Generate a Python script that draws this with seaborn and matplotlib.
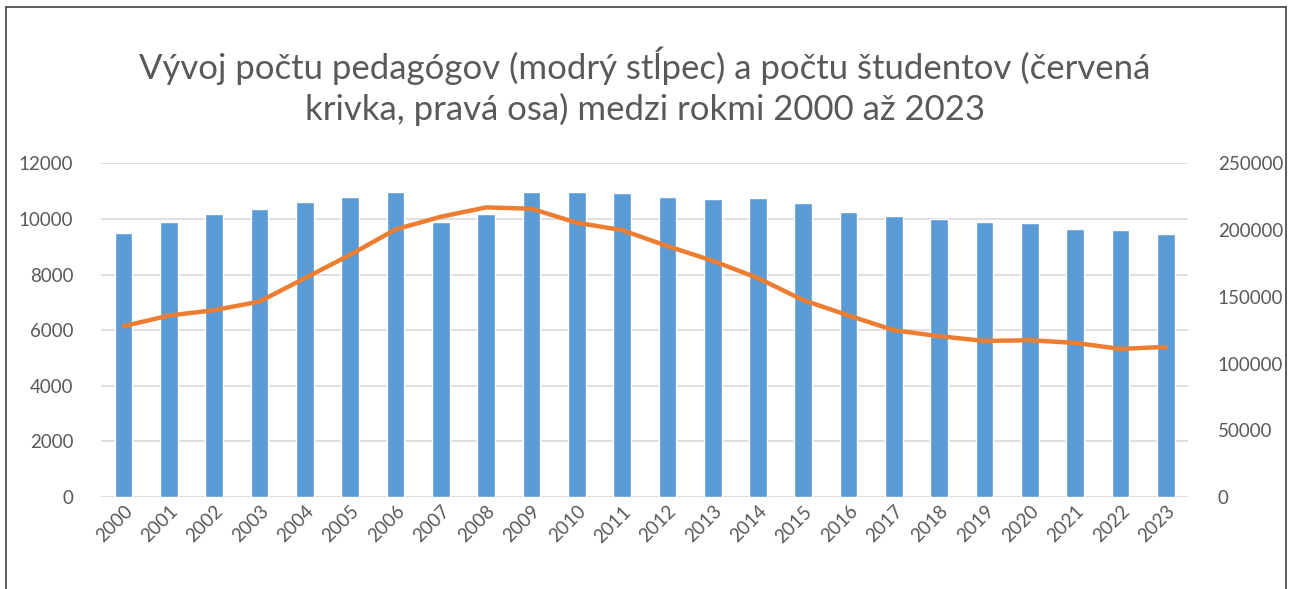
import matplotlib
matplotlib.use("Agg")
import matplotlib.pyplot as plt
import seaborn as sns
import pandas as pd
import numpy as np

# data
years = [str(y) for y in range(2000, 2024)]
teachers = [9500, 9890, 10180, 10345, 10600, 10800, 10970, 9890,
            10180, 10970, 10970, 10920, 10800, 10720, 10765, 10560,
            10260, 10095, 10010, 9890, 9840, 9630, 9590, 9470]
students = [128000, 136000, 140000, 146500, 164000, 181500, 200500, 210000,
            217000, 216000, 205500, 200000, 188000, 177000, 164000, 147500,
            136000, 125000, 120500, 117000, 117500, 115500, 111000, 112500]

title = ("Vývoj počtu pedagógov (modrý stĺpec) a počtu študentov (červená\n"
         "krivka, pravá osa) medzi rokmi 2000 až 2023")

df = pd.DataFrame({"rok": years, "pedagogovia": teachers, "studenti": students})
df["poz"] = range(len(df))

sns.set_theme(style="white")
plt.rcParams["font.family"] = ["Lato", "DejaVu Sans"]

text_col = "#595959"
bar_col = "#5B9BD5"
line_col = "#ED7D31"
grid_col = "#D9D9D9"

fig = plt.figure(figsize=(12.9, 5.89), dpi=100)
ax = fig.add_axes([0.0783, 0.156, 0.843, 0.5667])

sns.barplot(data=df, x="rok", y="pedagogovia", color=bar_col, width=0.39,
            saturation=1, ax=ax, zorder=2)
ax.set_ylim(0, 12000)
ax.set_yticks(range(0, 12001, 2000))
ax.set_xlim(-0.5, len(years) - 0.5)
ax.yaxis.grid(True, color=grid_col, linewidth=1.2, zorder=0)
ax.set_axisbelow(True)
ax.set_xlabel("")
ax.set_ylabel("")
for s in ax.spines.values():
    s.set_visible(False)
ax.tick_params(axis="y", length=0, pad=20, labelsize=13.5, labelcolor=text_col)
ax.tick_params(axis="x", length=0, pad=4, labelsize=13.5, labelcolor=text_col)
for lab in ax.get_xticklabels():
    lab.set_rotation(45)
    lab.set_ha("right")
    lab.set_rotation_mode("anchor")

ax2 = ax.twinx()
sns.lineplot(data=df, x="poz", y="studenti", color=line_col, linewidth=3.2,
             ax=ax2, solid_capstyle="round", zorder=3)
ax2.set_ylim(0, 250000)
ax2.set_yticks(range(0, 250001, 50000))
ax2.set_xlim(-0.5, len(years) - 0.5)
ax2.set_ylabel("")
ax2.set_xlabel("")
ax2.grid(False)
for s in ax2.spines.values():
    s.set_visible(False)
ax2.tick_params(axis="y", length=0, pad=21, labelsize=13.5, labelcolor=text_col)

fig.text(0.5, 0.853, title, ha="center", va="center", fontsize=25,
         color=text_col, linespacing=1.3)

# frame around the chart
for xs, ys in [([6, 6], [7, 589]), ([6, 1286], [7, 7]), ([1286, 1286], [7, 589])]:
    fig.add_artist(plt.Line2D([x / 1290 for x in xs], [1 - y / 589 for y in ys],
                              color="#404040", linewidth=1.2))

fig.savefig("out.png", dpi=100)
